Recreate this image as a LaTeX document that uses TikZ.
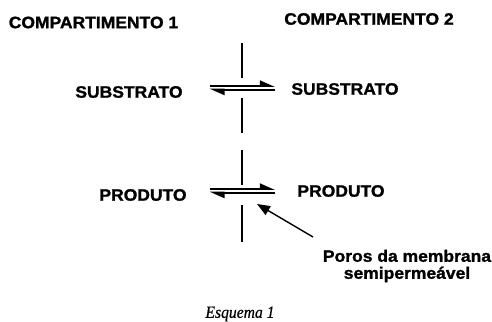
\documentclass[tikz,border=0pt]{standalone}
\usepackage{fontspec}
\usepackage{tikz}
\usetikzlibrary{arrows.meta}
\newfontfamily\labelfont[FakeStretch=1.06, BoldFeatures={FakeBold=1.3}]{Liberation Sans}
\newfontfamily\captionfont[FakeStretch=0.92, ItalicFeatures={FakeBold=0.6}]{Liberation Serif}

\begin{document}
\begin{tikzpicture}[x=1pt, y=-1pt,
    lbl/.style={font=\labelfont\bfseries\fontsize{16.5}{17}\selectfont, inner sep=0pt},
    eqline/.style={line width=1.8pt, -{Triangle[left, length=13pt, width=11pt]}},
    membrane/.style={line width=1.3pt},
    pointer/.style={line width=1.4pt, -{Triangle[length=13pt, width=10pt]}}]
    \useasboundingbox (0,0) rectangle (492,321);
    % compartments
    \node[lbl] (comp1) at (93.5,22.5) {COMPARTIMENTO 1};
    \node[lbl] (comp2) at (369,19) {COMPARTIMENTO 2};
    % species
    \node[lbl] (sub1) at (129,92) {SUBSTRATO};
    \node[lbl] (sub2) at (345,89) {SUBSTRATO};
    \node[lbl] (prod1) at (143,195) {PRODUTO};
    \node[lbl] (prod2) at (341,191) {PRODUTO};
    % membrane
    \draw[membrane] (242,43) -- (242,78);
    \draw[membrane] (242,98) -- (242,133);
    \draw[membrane] (242,150) -- (242,185);
    \draw[membrane] (242,205) -- (242,242);
    % equilibria
    \coordinate (sa) at (209.5,86);
    \coordinate (sb) at (275,86);
    \draw[eqline] (sa) -- (sb);
    \draw[eqline] ([yshift=-3.6pt]sb) -- ([yshift=-3.6pt]sa);
    \coordinate (pa) at (209.5,189);
    \coordinate (pb) at (275,189);
    \draw[eqline] (pa) -- (pb);
    \draw[eqline] ([yshift=-3.6pt]pb) -- ([yshift=-3.6pt]pa);
    % pores
    \node[lbl, align=center] (pores) at (407,266) {Poros da membrana\\semipermeável};
    \coordinate (tail) at (313,237);
    \coordinate (pore) at (257,204);
    \draw[pointer] (tail) -- (pore);
    \node[font=\captionfont\itshape\fontsize{17}{19}\selectfont, inner sep=0pt] (cap) at (240,314) {Esquema 1};
\end{tikzpicture}
\end{document}
